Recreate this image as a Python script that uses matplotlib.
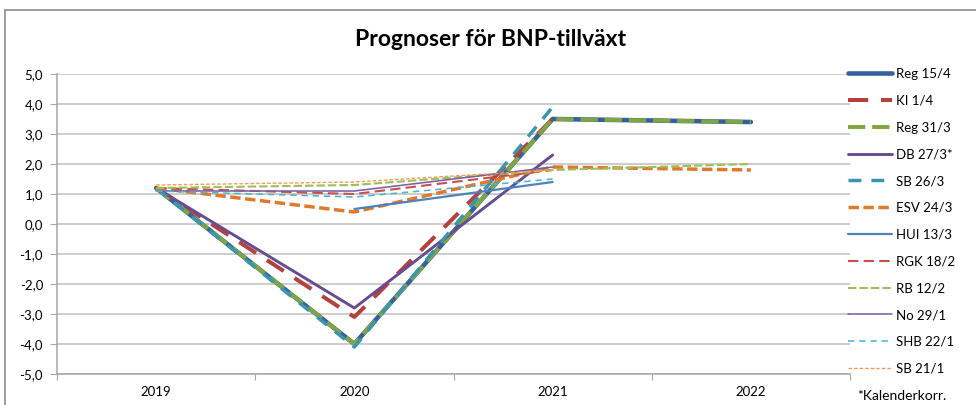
import numpy as np
import matplotlib
matplotlib.use("Agg")
import matplotlib.pyplot as plt
from matplotlib.lines import Line2D

years = ["2019", "2020", "2021", "2022"]
nan = np.nan

series_names = ["Reg 15/4", "KI 1/4", "Reg 31/3", "DB 27/3*", "SB 26/3", "ESV 24/3",
                "HUI 13/3", "RGK 18/2", "RB 12/2", "No 29/1", "SHB 22/1", "SB 21/1"]

reg_15_4 = [1.2, -4.0, 3.5, 3.4]
ki_1_4 = [1.2, -3.1, 3.5, nan]
reg_31_3 = [1.2, -4.0, 3.5, 3.4]
db_27_3 = [1.2, -2.8, 2.3, nan]
sb_26_3 = [1.2, -4.1, 3.9, nan]
esv_24_3 = [1.2, 0.4, 1.9, 1.8]
hui_13_3 = [nan, 0.5, 1.4, nan]
rgk_18_2 = [1.2, 1.0, 1.8, nan]
rb_12_2 = [1.2, 1.3, 1.8, 2.0]
no_29_1 = [1.1, 1.1, 1.9, nan]
shb_22_1 = [1.1, 0.9, 1.5, nan]
sb_21_1 = [1.3, 1.4, 1.8, nan]

values = [reg_15_4, ki_1_4, reg_31_3, db_27_3, sb_26_3, esv_24_3,
          hui_13_3, rgk_18_2, rb_12_2, no_29_1, shb_22_1, sb_21_1]

colors = ["#35619F", "#B5413E", "#7FA641", "#674C8F", "#3A95AD", "#E0792C",
          "#4F81BD", "#C8504C", "#9CC056", "#7C5FA6", "#4DB3D2", "#F59A55"]
widths = [3.3, 2.9, 2.9, 2.1, 2.5, 2.5, 1.6, 1.5, 1.5, 1.15, 1.15, 1.0]
styles = [None, (0, (5, 3.2)), (0, (4.3, 1.7)), None, (0, (3.7, 2.9)), (0, (3, 1.3)),
          None, (0, (5, 2.5)), (0, (4, 1.5)), None, (0, (4, 3)), (0, (2.5, 1.5))]

plt.rcParams['font.family'] = ['Lato', 'DejaVu Sans']

fig = plt.figure(figsize=(9.76, 4.05), dpi=100)
W, H = 976, 405
ax = fig.add_axes([57 / W, (H - 374) / H, (850 - 57) / W, 300 / H])

x = np.arange(len(years))
handles = []
for name, vals, c, lw, ls in zip(series_names, values, colors, widths, styles):
    v = np.array(vals, dtype=float)
    kw = dict(color=c, linewidth=lw, solid_capstyle='round', dash_capstyle='butt')
    if ls is not None:
        kw['linestyle'] = ls
    ln, = ax.plot(x, v, label=name, **kw)
    handles.append(ln)

ax.set_xlim(-0.5, 3.5)
ax.set_ylim(-5, 5)
ax.set_yticks(np.arange(-5, 5.1, 1))
ax.set_yticklabels([f"{t:.1f}".replace(".", ",") for t in np.arange(-5, 5.1, 1)])
ax.yaxis.grid(True, color="#BFBFBF", linewidth=1.1)
ax.set_axisbelow(True)

ax.set_xticks(np.arange(-0.5, 3.6, 1))
ax.set_xticklabels([])
ax.set_xticks(x, minor=True)
ax.set_xticklabels(years, minor=True)
ax.tick_params(axis='x', which='minor', length=0, pad=9, labelsize=9.5)
ax.tick_params(axis='x', which='major', length=4, color="#A6A6A6", direction='out')
ax.tick_params(axis='y', length=5, color="#A6A6A6", direction='out', labelsize=9.5, pad=5)

for s in ['top', 'right']:
    ax.spines[s].set_visible(False)
ax.spines['left'].set_color("#A6A6A6")
ax.spines['bottom'].set_color("#A6A6A6")
ax.spines['left'].set_linewidth(1.1)
ax.spines['bottom'].set_linewidth(1.1)

fig.text(491 / W, 1 - 40 / H, "Prognoser för BNP-tillväxt", ha='center', va='center',
         fontsize=16.5, fontweight='bold')

leg = fig.legend(handles=handles, loc='upper left', bbox_to_anchor=(848 / W, 1 - 68 / H),
                 frameon=False, fontsize=9.5, handlelength=3.3, handletextpad=0.3,
                 labelspacing=1.12, borderaxespad=0, borderpad=0)

fig.text(857 / W, 1 - 396 / H, "*Kalenderkorr.", ha='left', va='center', fontsize=10)

# outer chart border
fig.add_artist(Line2D([5 / W, 1.0], [1 - 10 / H, 1 - 10 / H], color="#8C8C8C", linewidth=1.2,
                      transform=fig.transFigure))
fig.add_artist(Line2D([5 / W, 5 / W], [0, 1 - 10 / H], color="#8C8C8C", linewidth=1.2,
                      transform=fig.transFigure))

fig.savefig("out.png", dpi=100)
